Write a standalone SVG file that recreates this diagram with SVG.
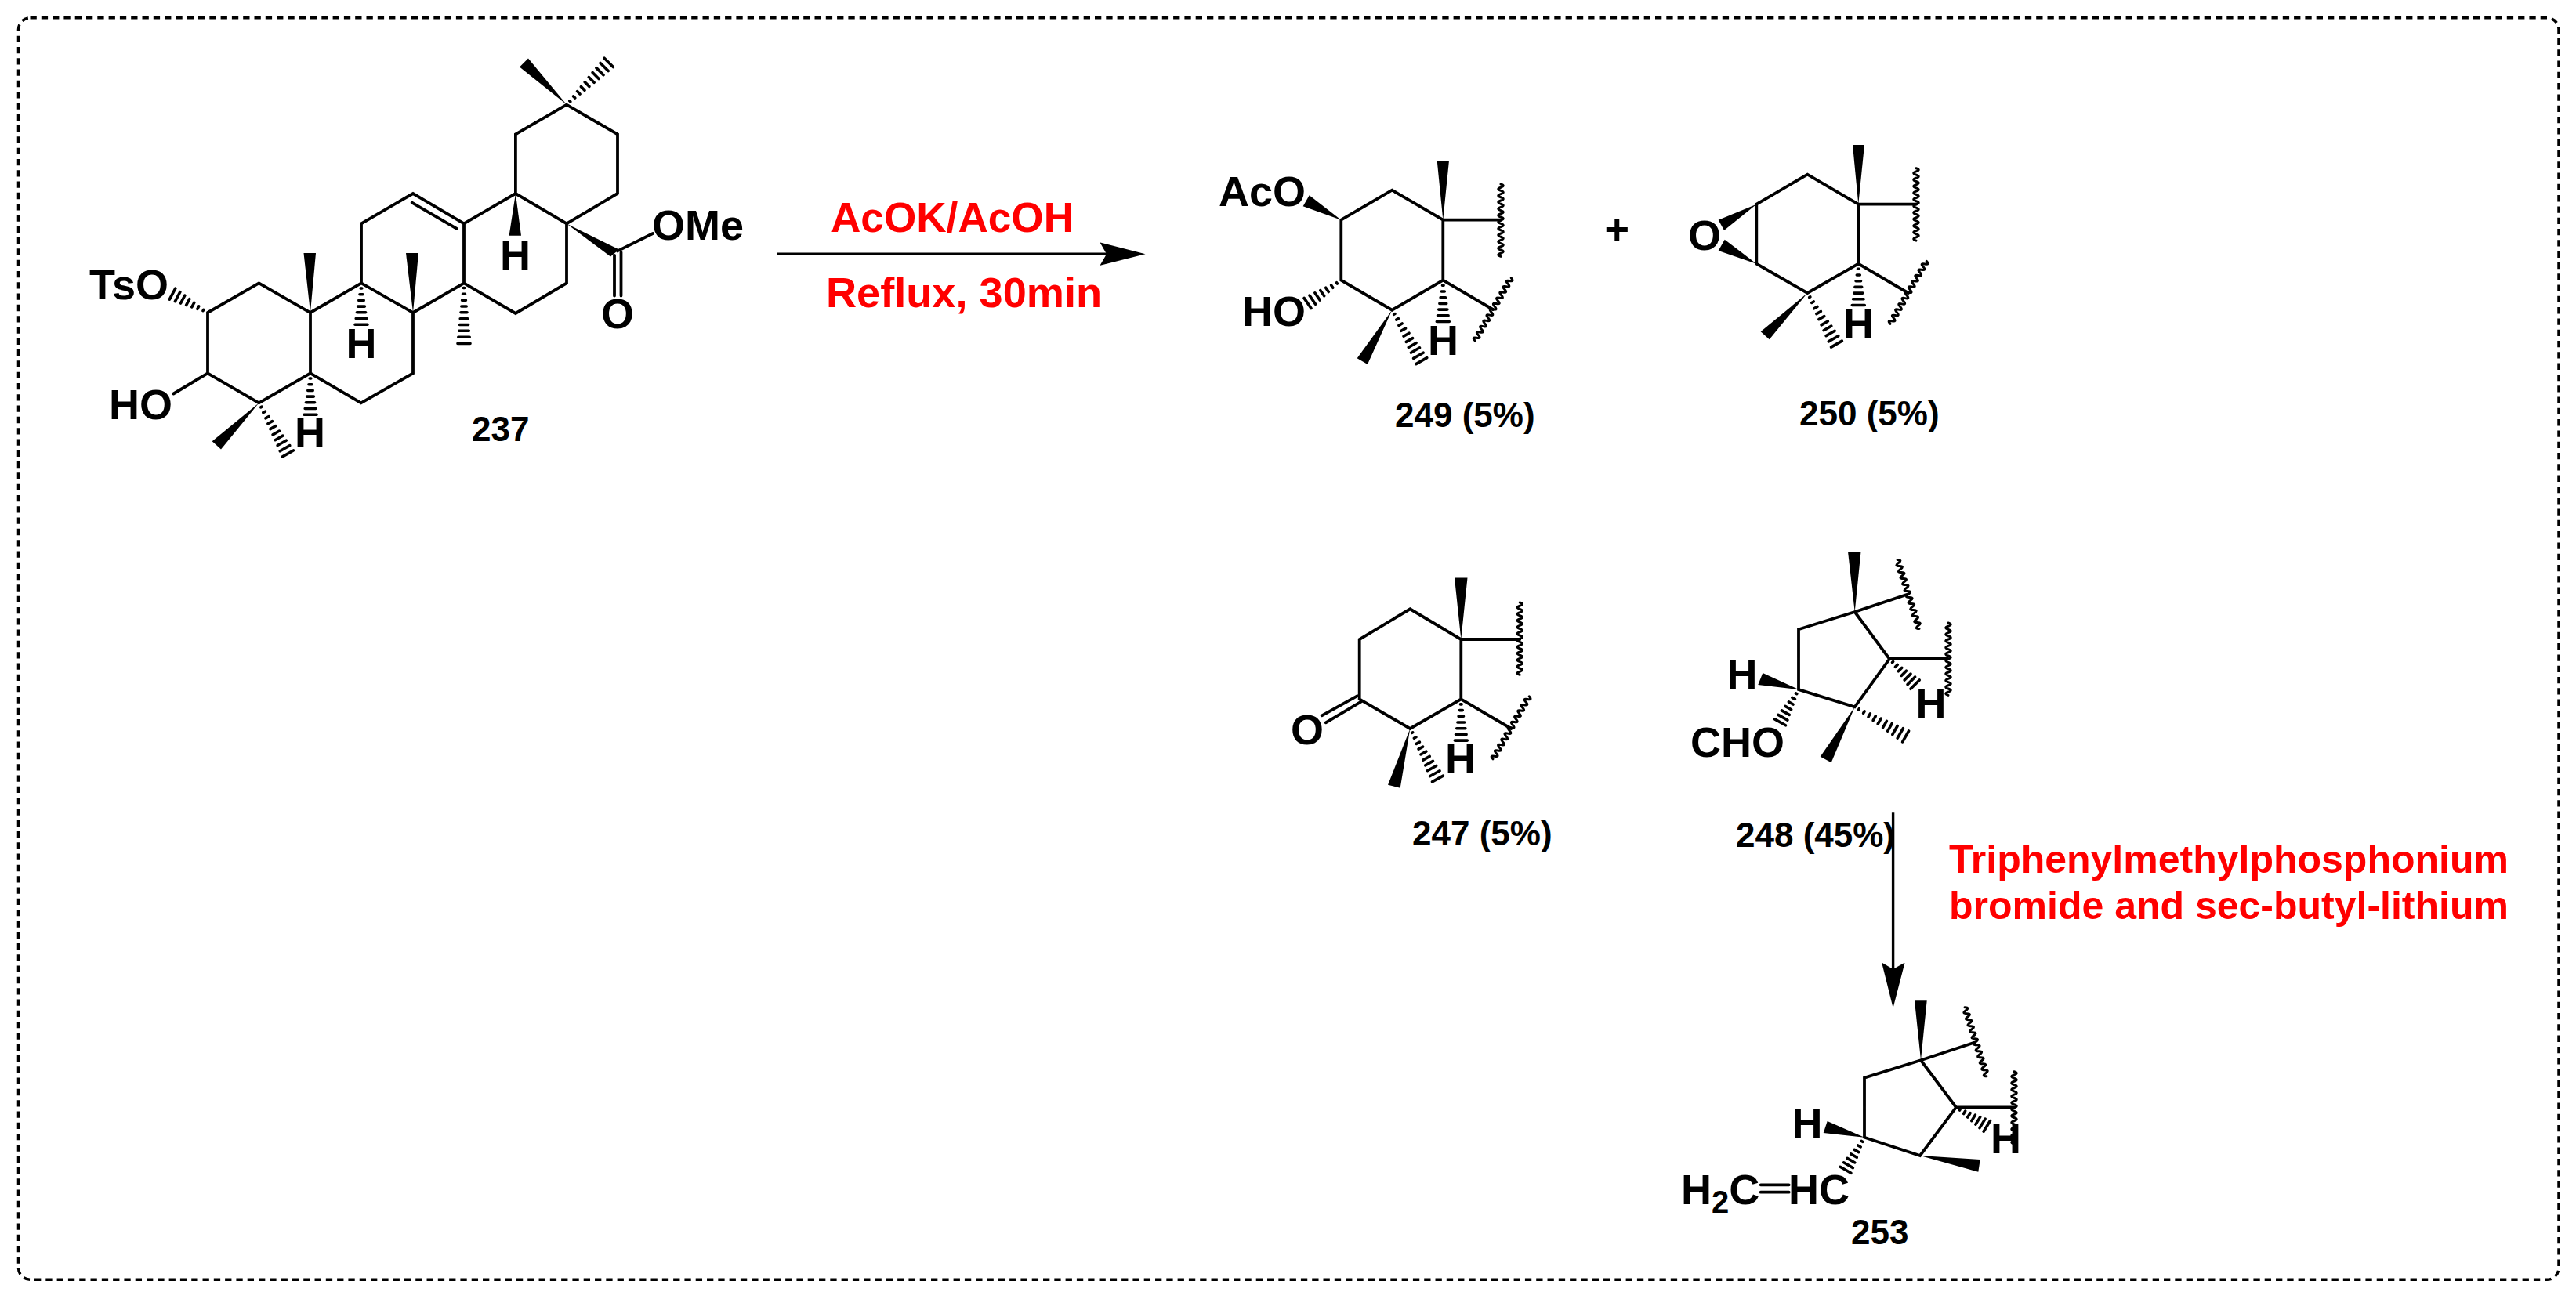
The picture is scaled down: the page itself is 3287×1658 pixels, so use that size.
<svg xmlns="http://www.w3.org/2000/svg" xmlns:xlink="http://www.w3.org/1999/xlink" width="3287" height="1658" viewBox="0 0 3287 1658">
<style>
text{font-family:"Liberation Sans",Arial,sans-serif;font-weight:700;fill:#000}
.a{font-size:54px}
.n{font-size:44px}
.r{fill:#f00;font-size:54px}
.r2{fill:#f00;font-size:50px}
.b{fill:none;stroke:#000;stroke-width:3.800;stroke-linejoin:miter;stroke-linecap:round}
.w{fill:#000;stroke:none}
.h{fill:none;stroke:#000;stroke-width:3.600;stroke-linecap:round}
.h path{vector-effect:non-scaling-stroke}
.z{fill:none;stroke:#000;stroke-width:3;stroke-linecap:round}
.c{fill:none;stroke:#000;stroke-width:3.400}
</style>
<defs>
<g id="h10" class="h"><path d="M8,-.7V.7M18,-1.500V1.500M28.500,-2.400V2.400M38.500,-3.200V3.200M48.500,-4V4M59,-4.800V4.800M69,-5.600V5.600M79,-6.400V6.400M89.500,-7.200V7.200M100,-8V8"/></g>
<g id="h7" class="h"><path d="M12,-.8V.8M26,-2V2M40,-3.200V3.200M54,-4.400V4.400M68,-5.600V5.600M82,-6.800V6.800M96,-8V8"/></g>
<path id="wv" class="z" d="M-46,0q2.100,-6.500 4.200,0t4.200,0t4.200,0t4.200,0t4.200,0t4.200,0t4.200,0t4.200,0t4.200,0t4.200,0t4.200,0t4.200,0t4.200,0t4.200,0t4.200,0t4.200,0t4.200,0t4.200,0t4.200,0t4.200,0t4.200,0t4.200,0"/>
<marker id="ah" markerUnits="userSpaceOnUse" markerWidth="62" markerHeight="34" refX="8.500" refY="15" orient="auto"><path d="M0,0L58,15L0,29.500L8.500,15Z" fill="#000"/></marker>
</defs>

<rect id="frame" x="23.500" y="22.700" width="3241.500" height="1610.600" rx="15" ry="15" fill="none" stroke="#000" stroke-width="3.500" stroke-dasharray="8.300 6"/>

<g id="connectors">
<path id="arrow1" class="c" d="M992,324.300H1412" marker-end="url(#ah)"/>
<path id="arrow2" class="c" d="M2415.600,1037.300V1237" marker-end="url(#ah)"/>
</g>

<g id="node-237">
<path class="b" d="M265,399L330.400,361.400L396,399V476.400L330.400,514.300L265,476.400ZM396,399L461,361.400L527,399V476.400L460.700,514.300L396,476.400M461,361.400V285.400L527,247L592,285.400V361.400L527,399M592,361.400L657.900,400L723,361.400V285.400L657.900,247L592,285.400M525.700,258.600L582.900,291.800M657.900,247V171.400L723,133.600L788,171.400V247L723,285.400M265,476.400L221.400,502.500M788,320.400L833,298M784,326V377.500M792.500,322V377.500"/>
<polygon class="w" points="396,399 387.500,323 403,323"/>
<polygon class="w" points="527,399 518,323 534,323"/>
<polygon class="w" points="657.900,247 649.600,300.700 665,300.700"/>
<polygon class="w" points="330.400,514.300 270.700,563.200 282,573.500"/>
<polygon class="w" points="723,133.600 674,74.600 663,85.400"/>
<polygon class="w" points="723,285.400 790,318.600 779,327.500"/>
<use href="#h10" transform="translate(592,361.400) rotate(90) scale(.77,1)"/>
<use href="#h7" transform="translate(461,361.400) rotate(90) scale(.55,1)"/>
<use href="#h7" transform="translate(396,476.400) rotate(90) scale(.55,1)"/>
<use href="#h7" transform="translate(265,399) rotate(208) scale(.53,1)"/>
<use href="#h10" transform="translate(330.400,514.300) rotate(60.200) scale(.745,1)"/>
<use href="#h10" transform="translate(723,133.600) rotate(-45) scale(.76,1)"/>
<text class="a" x="114" y="382">TsO</text>
<text class="a" x="139" y="534.500">HO</text>
<text class="a" x="441.500" y="457">H</text>
<text class="a" x="376" y="571.400">H</text>
<text class="a" x="638" y="343.600">H</text>
<text class="a" x="832" y="306">OMe</text>
<text class="a" x="767" y="419">O</text>
<text class="n" x="602" y="563">237</text>
</g>

<g id="node-249">
<path class="b" d="M1711.300,280.700L1776.300,242.700L1841.300,280.700V357.700L1776.300,395.700L1711.300,357.700ZM1841.300,280.700H1915M1841.300,357.700L1905,395"/>
<polygon class="w" points="1841.300,280.700 1833.700,205 1849,205"/>
<polygon class="w" points="1711.300,280.700 1670.700,249.300 1662.700,263.300"/>
<polygon class="w" points="1776.300,395.700 1731.700,457.300 1745,465"/>
<use href="#h7" transform="translate(1711.300,357.700) rotate(145.600) scale(.54,1)"/>
<use href="#h10" transform="translate(1776.300,395.700) rotate(60) scale(.75,1)"/>
<use href="#h7" transform="translate(1841.300,357.700) rotate(90) scale(.55,1)"/>
<use href="#wv" transform="translate(1915,281) rotate(90)"/>
<use href="#wv" transform="translate(1905,395) rotate(-60)"/>
<text class="a" x="1555" y="263.300">AcO</text>
<text class="a" x="1585" y="415.700">HO</text>
<text class="a" x="1822" y="453.300">H</text>
<text class="n" x="1780" y="545">249 (5%)</text>
</g>

<g id="node-plus"><text x="2047.500" y="311" class="a">+</text></g>

<g id="node-250">
<path class="b" d="M2241.300,260.700L2306.300,222.700L2371.300,260.700V336.700L2306.300,374L2241.300,336.700ZM2371.300,260.700H2445M2371.300,336.700L2435,374"/>
<polygon class="w" points="2371.300,260.700 2364,185 2379,185"/>
<polygon class="w" points="2241.300,260.700 2192.700,280.700 2200,294"/>
<polygon class="w" points="2241.300,336.700 2200.700,305.700 2192.700,320"/>
<polygon class="w" points="2306.300,374 2246.700,423.300 2257.700,433.300"/>
<use href="#h10" transform="translate(2306.300,374) rotate(60.300) scale(.75,1)"/>
<use href="#h7" transform="translate(2371.300,336.700) rotate(90) scale(.55,1)"/>
<use href="#wv" transform="translate(2445,260.700) rotate(90)"/>
<use href="#wv" transform="translate(2435,373.500) rotate(-60)"/>
<text class="a" x="2154" y="319">O</text>
<text class="a" x="2352" y="432.300">H</text>
<text class="n" x="2296" y="543.300">250 (5%)</text>
</g>

<g id="node-247">
<path class="b" d="M1734.700,892.300V816L1799.300,777.300L1864.300,816V892.300L1799.300,930L1734.700,892.300M1864.300,816H1939.300M1864.300,892.300L1928.300,930M1731.700,888.300L1686.700,913.300M1736.700,895.700L1691.700,922.300"/>
<polygon class="w" points="1864.300,816 1856,737.500 1872.500,737.500"/>
<polygon class="w" points="1799.300,930 1771,1001.700 1786.700,1005.700"/>
<use href="#h10" transform="translate(1799.300,930) rotate(61.200) scale(.73,1)"/>
<use href="#h7" transform="translate(1864.300,892.300) rotate(90) scale(.55,1)"/>
<use href="#wv" transform="translate(1939.300,815) rotate(90)"/>
<use href="#wv" transform="translate(1928,929) rotate(-60)"/>
<text class="a" x="1647" y="949.500">O</text>
<text class="a" x="1844" y="987.300">H</text>
<text class="n" x="1802" y="1079">247 (5%)</text>
</g>

<g id="node-248">
<path class="b" d="M2366.700,781L2295,803.300V880L2366.700,902.300L2411,841ZM2366.700,781L2435,758.300M2411,841H2486"/>
<polygon class="w" points="2366.700,781 2358,704 2374.500,704"/>
<polygon class="w" points="2295,880 2249.300,859 2243.300,874"/>
<polygon class="w" points="2366.700,902.300 2322.700,965.700 2336.700,973.300"/>
<use href="#h7" transform="translate(2295,880) rotate(119.300) scale(.5,1)"/>
<use href="#h10" transform="translate(2366.700,902.300) rotate(30.100) scale(.75,1)"/>
<use href="#h7" transform="translate(2411,841) rotate(45) scale(.48,1)"/>
<use href="#wv" transform="translate(2435,758.300) rotate(72.400)"/>
<use href="#wv" transform="translate(2486,841) rotate(90)"/>
<text class="a" x="2203.500" y="879.300">H</text>
<text class="a" x="2157" y="966">CHO</text>
<text class="a" x="2444.500" y="915.700">H</text>
<text class="n" x="2215" y="1081">248 (45%)</text>
</g>

<g id="node-253">
<path class="b" d="M2451,1353.300L2379,1375.700V1451.700L2450,1475L2496,1413.300ZM2451,1353.300L2519,1330.700M2496,1413.300H2570M2246.700,1512.300H2282.700M2246.700,1521.700H2282.700"/>
<polygon class="w" points="2451,1353.300 2443,1277.300 2458.700,1277.300"/>
<polygon class="w" points="2379,1451.700 2331.700,1431 2326.700,1446"/>
<polygon class="w" points="2450,1475 2526.700,1480 2524.300,1495.700"/>
<use href="#h7" transform="translate(2379,1451.700) rotate(120) scale(.5,1)"/>
<use href="#h7" transform="translate(2496,1413.300) rotate(31.500) scale(.48,1)"/>
<use href="#wv" transform="translate(2521,1329.500) rotate(72.400)"/>
<use href="#wv" transform="translate(2570,1413.700) rotate(90)"/>
<text class="a" x="2286.500" y="1451.700">H</text>
<text class="a" x="2540" y="1471.700">H</text>
<text class="a" x="2145" y="1537">H<tspan dy="11" font-size="40">2</tspan><tspan dy="-11">C</tspan></text>
<text class="a" x="2282" y="1537">HC</text>
<text class="n" x="2362" y="1587.700">253</text>
</g>

<g id="labels">
<text class="r" x="1060" y="296" textLength="310" lengthAdjust="spacingAndGlyphs">AcOK/AcOH</text>
<text class="r" x="1054" y="391.700" textLength="352" lengthAdjust="spacingAndGlyphs">Reflux, 30min</text>
<text class="r2" x="2487" y="1114">Triphenylmethylphosphonium</text>
<text class="r2" x="2487" y="1172.700">bromide and sec-butyl-lithium</text>
</g>
</svg>
